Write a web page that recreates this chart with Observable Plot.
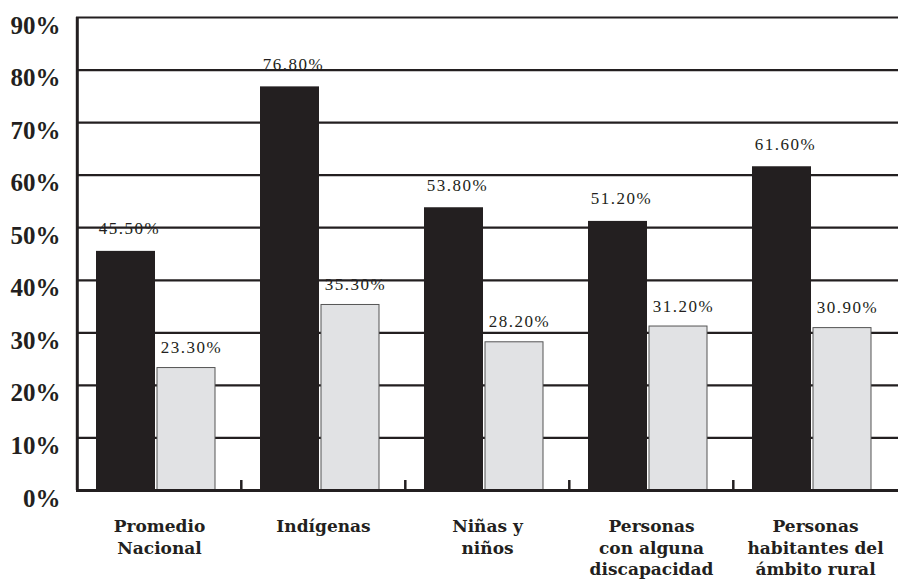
<!DOCTYPE html>
<html>
<head>
<meta charset="utf-8">
<script src="https://cdn.jsdelivr.net/npm/d3@7"></script>
<script src="https://cdn.jsdelivr.net/npm/@observablehq/plot@0.6"></script>
<style>
  html, body { margin: 0; padding: 0; background: #fff; }
  .vals text { letter-spacing: 1.5px; }
</style>
</head>
<body>
<div id="chart"></div>
<script>
const categories = ["Promedio Nacional", "Indígenas", "Niñas y niños", "Personas con alguna discapacidad", "Personas habitantes del ámbito rural"];
const categoryLabels = ["Promedio\nNacional", "Indígenas", "Niñas y\nniños", "Personas\ncon alguna\ndiscapacidad", "Personas\nhabitantes del\námbito rural"];
const seriesA = [45.5, 76.8, 53.8, 51.2, 61.6];
const seriesB = [23.3, 35.3, 28.2, 31.2, 30.9];
const yTicks = [0, 10, 20, 30, 40, 50, 60, 70, 80, 90];
const yTickLabels = ["0%", "10%", "20%", "30%", "40%", "50%", "60%", "70%", "80%", "90%"];

const W = 898, H = 586, mL = 76, mR = 0, mT = 17, mB = 96;
const bw = (W - mL - mR) / categories.length;
const ink = "#231f20";
const serif = "Liberation Serif";

const dataA = categories.map((c, i) => ({cat: c, v: seriesA[i]}));
const dataB = categories.map((c, i) => ({cat: c, v: seriesB[i]}));
const fmt = v => v.toFixed(2) + "%";

const chart = Plot.plot({
  width: W, height: H,
  marginTop: mT, marginBottom: mB, marginLeft: mL, marginRight: mR,
  x: {domain: categories, padding: 0, axis: null},
  y: {domain: [0, 90], axis: null},
  style: {fontFamily: serif, color: ink, background: "white", overflow: "visible"},
  marks: [
    Plot.ruleY(yTicks.filter(d => d > 0), {stroke: ink, strokeWidth: 2.2}),
    Plot.barY(dataA, {x: "cat", y: "v", fill: ink, insetLeft: 19, insetRight: 86}),
    Plot.barY(dataB, {x: "cat", y: "v", fill: "#e1e2e4", stroke: "#555", strokeWidth: 1, insetLeft: 80, insetRight: 26}),
    Plot.ruleY([0], {stroke: ink, strokeWidth: 3}),
    Plot.ruleX([categories[0]], {x: d => d, y1: 0, y2: 90, dx: -bw / 2, stroke: ink, strokeWidth: 3}),
    Plot.ruleX(categories.slice(1), {x: d => d, y1: 0, y2: 1.9, dx: -bw / 2, stroke: ink, strokeWidth: 2.5}),
    Plot.text(dataA, {x: "cat", y: "v", text: d => fmt(d.v), dx: -30, dy: -17, lineAnchor: "bottom", fontSize: 17, fontFamily: serif, fill: ink, className: "vals"}),
    Plot.text(dataB, {x: "cat", y: "v", text: d => fmt(d.v), dx: 32, dy: -15, lineAnchor: "bottom", fontSize: 17, fontFamily: serif, fill: ink, className: "vals"}),
    Plot.axisY(yTicks, {tickSize: 0, tickPadding: 16, tickFormat: d => yTickLabels[yTicks.indexOf(d)], fontSize: 25, fontWeight: "bold", fontFamily: serif, dy: 8, fill: ink, label: null}),
    Plot.text(categories, {x: d => d, y: 0, text: d => categoryLabels[categories.indexOf(d)], lineAnchor: "top", dy: 26, fontSize: 17, lineHeight: 1.28, fontWeight: "bold", fontFamily: "DejaVu Serif", fill: ink})
  ]
});
document.getElementById("chart").appendChild(chart);
</script>
</body>
</html>
